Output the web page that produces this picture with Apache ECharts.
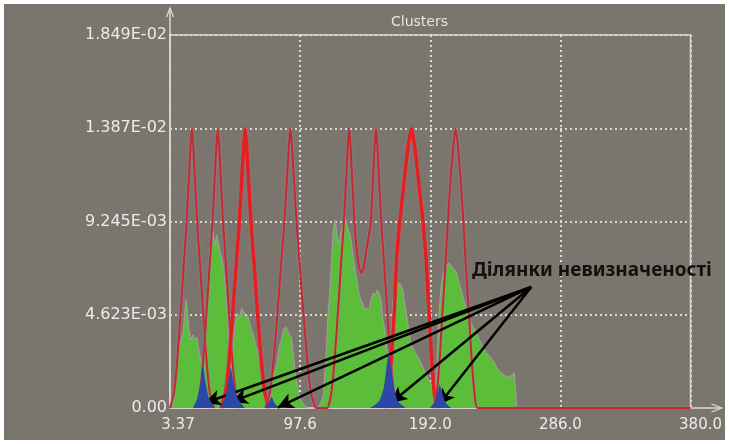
<!DOCTYPE html>
<html><head><meta charset="utf-8">
<script src="https://cdn.jsdelivr.net/npm/echarts@6/dist/echarts.min.js"></script>
<style>html,body{margin:0;padding:0;background:#fff;width:731px;height:444px;overflow:hidden}
#c{position:absolute;left:4px;top:4px;width:721px;height:436px}</style>
</head><body><div id="c"></div>
<script>
// ---- data ----
const X_MIN = 3.37, X_MAX = 380.0, Y_MAX = 1.849e-2;
const xTickLabels = ['3.37', '97.6', '192.0', '286.0', '380.0'];
const yTickLabels = ['0.00', '4.623E-03', '9.245E-03', '1.387E-02', '1.849E-02'];
const titleText = 'Clusters';
const noteText = 'Ділянки невизначеності';

const green = [[3.37,0],[5.53,0.15e-3],[6.97,1.14e-3],[8.41,2.13e-3],[9.85,2.88e-3],[11.29,3.37e-3],[12.73,3.72e-3],[14.17,4.86e-3],[14.89,5.35e-3],[15.61,5.11e-3],[17.05,3.87e-3],[18.49,3.37e-3],[19.93,3.62e-3],[21.37,3.37e-3],[22.81,3.52e-3],[24.25,2.88e-3],[25.69,2.38e-3],[27.13,1.64e-3],[28.57,3.87e-3],[30.01,5.20e-3],[31.45,6.84e-3],[32.17,7.83e-3],[33.61,8.33e-3],[34.33,8.82e-3],[35.77,8.08e-3],[37.21,8.58e-3],[38.65,8.08e-3],[39.38,7.83e-3],[40.81,7.44e-3],[42.26,6.84e-3],[43.70,5.85e-3],[45.14,4.36e-3],[46.58,2.38e-3],[48.02,1.78e-3],[49.46,3.62e-3],[50.90,4.36e-3],[52.34,4.71e-3],[53.78,4.46e-3],[55.22,4.96e-3],[56.66,4.76e-3],[58.10,4.46e-3],[59.54,4.61e-3],[60.98,4.21e-3],[62.42,3.87e-3],[63.86,3.62e-3],[65.30,3.12e-3],[66.74,2.88e-3],[68.18,2.28e-3],[69.62,1.73e-3],[71.06,1.14e-3],[72.50,0.50e-3],[73.94,0.30e-3],[75.38,0.40e-3],[76.82,1.14e-3],[78.26,1.64e-3],[79.70,1.88e-3],[81.14,2.38e-3],[82.58,3.12e-3],[84.02,3.37e-3],[85.46,3.87e-3],[86.90,4.02e-3],[88.34,3.87e-3],[89.78,3.62e-3],[91.22,3.52e-3],[92.66,2.63e-3],[94.10,1.73e-3],[95.54,1.14e-3],[96.98,0.60e-3],[99.14,0.25e-3],[101.30,0.10e-3],[103.46,0],[110.0,0],[112.10,0.20e-3],[114.26,0.60e-3],[116.42,2.80e-3],[117.86,4.86e-3],[118.58,5.35e-3],[120.02,7.09e-3],[121.46,8.82e-3],[122.90,9.32e-3],[124.34,8.58e-3],[125.78,8.08e-3],[127.22,8.82e-3],[128.66,9.22e-3],[130.10,9.42e-3],[131.54,9.07e-3],[132.99,8.72e-3],[134.43,8.33e-3],[135.87,7.58e-3],[137.31,6.84e-3],[138.75,6.34e-3],[140.19,5.60e-3],[141.63,5.35e-3],[143.07,5.11e-3],[144.51,4.86e-3],[145.95,4.96e-3],[147.39,4.86e-3],[148.83,5.35e-3],[150.27,5.70e-3],[151.71,5.60e-3],[153.15,5.85e-3],[154.59,5.75e-3],[156.03,5.35e-3],[157.47,4.36e-3],[158.91,3.87e-3],[160.35,2.88e-3],[161.79,2.38e-3],[163.23,2.88e-3],[164.67,5.35e-3],[166.11,5.85e-3],[167.55,6.10e-3],[168.99,6.20e-3],[170.43,6.10e-3],[171.87,5.85e-3],[173.31,5.11e-3],[174.75,4.51e-3],[176.19,3.87e-3],[177.63,3.22e-3],[179.79,2.88e-3],[181.95,2.63e-3],[184.11,2.38e-3],[186.27,2.03e-3],[188.43,1.73e-3],[190.60,1.39e-3],[192.76,1.04e-3],[194.92,0.79e-3],[196.36,1.88e-3],[197.80,4.36e-3],[199.24,5.85e-3],[200.68,6.59e-3],[202.12,6.84e-3],[203.56,6.99e-3],[205.00,7.19e-3],[206.44,7.09e-3],[207.88,7.04e-3],[209.32,6.84e-3],[210.76,6.69e-3],[212.20,6.34e-3],[213.64,5.95e-3],[215.08,5.60e-3],[216.52,5.20e-3],[217.96,4.86e-3],[219.40,4.61e-3],[220.84,4.26e-3],[222.28,4.06e-3],[223.72,3.87e-3],[225.16,3.72e-3],[226.60,3.47e-3],[228.04,3.27e-3],[229.48,3.07e-3],[230.92,2.88e-3],[232.36,2.73e-3],[233.80,2.63e-3],[235.24,2.53e-3],[236.68,2.38e-3],[238.12,2.23e-3],[239.56,2.03e-3],[241.00,1.88e-3],[242.44,1.78e-3],[243.88,1.73e-3],[245.32,1.64e-3],[246.76,1.54e-3],[248.20,1.54e-3],[249.64,1.59e-3],[251.08,1.64e-3],[252.52,1.73e-3],[253.96,1.73e-3],[254.3,0]];

const red1 = [[3.37,0],[6.25,0.74e-3],[8.77,2.48e-3],[11.29,4.96e-3],[13.45,7.24e-3],[15.25,9.07e-3],[17.05,11.40e-3],[18.13,12.89e-3],[19.21,13.87e-3],[20.29,12.89e-3],[21.37,11.40e-3],[23.17,9.07e-3],[24.97,7.24e-3],[27.13,4.96e-3],[29.65,2.48e-3],[32.17,0.74e-3],[35.05,0]];
const red2 = [[22.09,0],[24.97,0.74e-3],[27.49,2.48e-3],[30.01,4.96e-3],[32.17,7.24e-3],[33.97,9.07e-3],[35.77,11.40e-3],[36.85,12.89e-3],[37.93,13.87e-3],[39.01,12.89e-3],[40.09,11.40e-3],[41.89,9.07e-3],[43.69,7.24e-3],[45.85,4.96e-3],[48.37,2.48e-3],[50.89,0.74e-3],[53.77,0]];
const red3 = [[40.32,0],[43.48,0.74e-3],[46.26,2.48e-3],[49.03,4.96e-3],[51.40,7.24e-3],[53.38,9.07e-3],[55.36,11.40e-3],[56.55,12.89e-3],[57.74,13.87e-3],[58.93,12.89e-3],[60.12,11.40e-3],[62.10,9.07e-3],[64.08,7.24e-3],[66.45,4.96e-3],[69.22,2.48e-3],[72.00,0.74e-3],[75.16,0]];
const red4 = [[72.28,0],[75.60,0.74e-3],[78.49,2.48e-3],[81.39,4.96e-3],[83.88,7.24e-3],[85.95,9.07e-3],[88.02,11.40e-3],[89.26,12.89e-3],[90.50,13.87e-3],[91.74,12.89e-3],[92.98,11.40e-3],[95.05,9.07e-3],[97.12,7.24e-3],[99.61,4.96e-3],[102.51,2.48e-3],[105.40,0.74e-3],[108.72,0]];
const red56 = [[108.72,0],[117.15,0],[120.03,0.74e-3],[122.55,2.48e-3],[125.07,4.96e-3],[127.23,7.24e-3],[129.03,9.07e-3],[130.83,11.40e-3],[131.91,12.89e-3],[132.99,13.87e-3],[134.07,12.89e-3],[135.15,11.40e-3],[136.95,9.07e-3],[138.40,7.90e-3],[140.20,7.00e-3],[141.90,6.69e-3],[143.60,7.00e-3],[145.60,7.90e-3],[148.47,9.07e-3],[150.27,11.40e-3],[151.35,12.89e-3],[152.43,13.87e-3],[153.51,12.89e-3],[154.59,11.40e-3],[156.39,9.07e-3],[158.19,7.24e-3],[160.35,4.96e-3],[162.87,2.48e-3],[165.39,0.74e-3],[168.27,0]];
const red7 = [[159.30,0],[161.40,0.74e-3],[163.60,2.48e-3],[165.80,4.96e-3],[167.20,7.24e-3],[169.40,9.07e-3],[173.00,11.40e-3],[175.50,12.89e-3],[177.99,13.87e-3],[180.50,12.89e-3],[183.00,11.40e-3],[186.60,9.07e-3],[188.80,7.24e-3],[190.60,4.96e-3],[192.60,2.48e-3],[194.60,0.74e-3],[196.70,0]];
const red8 = [[194.20,0],[196.36,0.74e-3],[198.52,2.48e-3],[200.68,4.96e-3],[202.84,7.24e-3],[204.28,9.07e-3],[206.44,11.40e-3],[208.24,12.89e-3],[210.04,13.87e-3],[211.84,12.89e-3],[213.64,11.40e-3],[215.80,9.07e-3],[217.24,7.24e-3],[219.40,4.96e-3],[221.56,2.48e-3],[223.72,0.74e-3],[225.88,0],[380.0,0]];

const blue1 = [[19.90,0],[23.00,0.45e-3],[25.50,1.30e-3],[27.13,2.15e-3],[29.00,1.30e-3],[31.50,0.50e-3],[36.00,0]];
const blue2 = [[39.60,0],[43.40,0.55e-3],[45.70,1.40e-3],[47.30,2.00e-3],[49.20,1.30e-3],[52.30,0.50e-3],[57.60,0]];
const blue3 = [[72.20,0],[74.66,0.25e-3],[76.82,0.55e-3],[78.98,0.25e-3],[82.00,0]];
const blue4 = [[148.00,0],[154.59,0.32e-3],[158.19,1.05e-3],[160.35,2.20e-3],[161.79,2.75e-3],[163.23,2.05e-3],[165.39,1.05e-3],[168.27,0.32e-3],[174.00,0]];
const blue5 = [[191.40,0],[194.92,0.30e-3],[197.08,0.80e-3],[198.52,1.15e-3],[200.68,0.70e-3],[202.84,0.25e-3],[207.00,0]];

const arrowFrom = [264.77, 6.00e-3];
const arrowTo = [[28.57,0.25e-3],[48.02,0.30e-3],[81.14,0.02e-3],[163.23,0.25e-3],[197.80,0.15e-3]];

// ---- chart ----
const SPAN = X_MAX - X_MIN;
const sh = d => d.map(p => [p[0] - X_MIN, p[1]]);
const BG = '#7b766d', AX = '#dcd9d2', LBL = '#ebebeb';
const FONT = 'DejaVu Sans';

function redSeries(d, thick) {
  return {type: 'line', data: sh(d), showSymbol: false, smooth: 0.15, silent: true, z: 4,
    lineStyle: thick ? {color: '#e61e1e', width: 3.5, shadowColor: 'rgba(180,120,170,0.6)', shadowBlur: 2}
                     : {color: '#c42a2c', width: 2, shadowColor: 'rgba(170,130,190,0.8)', shadowBlur: 2}};
}
function blueSeries(d) {
  return {type: 'line', data: sh(d), showSymbol: false, smooth: 0.2, silent: true, z: 5,
    lineStyle: {width: 0}, areaStyle: {color: '#2b48a8', opacity: 1}};
}

const series = [
  {type: 'line', data: sh(green), showSymbol: false, silent: true, z: 2,
   lineStyle: {color: 'rgba(185,150,185,0.85)', width: 1}, areaStyle: {color: '#5cbd3b', opacity: 1}},
  redSeries(red1, false), redSeries(red2, false), redSeries(red3, true), redSeries(red4, false),
  redSeries(red56, false), redSeries(red7, true), redSeries(red8, false),
  blueSeries(blue1), blueSeries(blue2), blueSeries(blue3), blueSeries(blue4), blueSeries(blue5),
  {type: 'line', data: [], silent: true, z: 6,
   markLine: {silent: true, animation: false, symbol: ['none', 'arrow'], symbolSize: [12, 16],
     label: {show: false}, lineStyle: {color: '#000', width: 2.5, type: 'solid'},
     data: arrowTo.map(t => [{coord: [arrowFrom[0] - X_MIN, arrowFrom[1]]}, {coord: [t[0] - X_MIN, t[1]]}])}}
];

const option = {
  backgroundColor: BG,
  animation: false,
  title: {text: titleText, left: 382, top: 6,
    textStyle: {color: '#e6e6e6', fontFamily: FONT, fontSize: 14, fontWeight: 'normal'}},
  grid: {left: 166, top: 31, right: 32, bottom: 32, show: true, borderColor: AX, borderWidth: 1.5, backgroundColor: 'transparent'},
  xAxis: {type: 'value', min: 0, max: SPAN, interval: SPAN / 4,
    axisLine: {show: false}, axisTick: {show: false},
    splitLine: {show: true, lineStyle: {color: AX, width: 2, type: [2, 3]}},
    axisLabel: {color: LBL, fontFamily: FONT, fontSize: 15, margin: 10,
      formatter: v => { const i = Math.round(v / (SPAN / 4)); return i === 4 ? '{r|' + xTickLabels[i] + '}' : (i === 0 ? '{l|' + xTickLabels[i] + '}' : xTickLabels[i]); },
      rich: {r: {color: LBL, fontFamily: FONT, fontSize: 15, padding: [0, 0, 0, 20]},
             l: {color: LBL, fontFamily: FONT, fontSize: 15, padding: [0, 0, 0, 16]}}}},
  yAxis: {type: 'value', min: 0, max: Y_MAX, interval: Y_MAX / 4,
    axisLine: {show: false}, axisTick: {show: false},
    splitLine: {show: true, lineStyle: {color: AX, width: 2, type: [2, 3]}},
    axisLabel: {color: LBL, fontFamily: FONT, fontSize: 16, margin: 3, padding: [0, 0, 8, 0],
      formatter: v => yTickLabels[Math.round(v / (Y_MAX / 4))]}},
  series: series
};

const chart = echarts.init(document.getElementById('c'), null, {renderer: 'canvas'});
chart.setOption(option);
const p0 = chart.convertToPixel({gridIndex: 0}, [0, 0]);
const p1 = chart.convertToPixel({gridIndex: 0}, [SPAN, Y_MAX]);
const topY = p1[1] - 27, rightX = p1[0] + 31;
chart.setOption({graphic: [
  {type: 'line', z: 1, shape: {x1: p0[0], y1: p0[1], x2: p0[0], y2: topY}, style: {stroke: AX, lineWidth: 1.5}},
  {type: 'polyline', z: 1, shape: {points: [[p0[0] - 3.5, topY + 9], [p0[0], topY], [p0[0] + 3.5, topY + 9]]}, style: {stroke: AX, lineWidth: 1.3, fill: null}},
  {type: 'line', z: 1, shape: {x1: p0[0], y1: p0[1], x2: rightX, y2: p0[1]}, style: {stroke: AX, lineWidth: 1.5}},
  {type: 'polyline', z: 1, shape: {points: [[rightX - 10, p0[1] - 4], [rightX, p0[1]], [rightX - 10, p0[1] + 4]]}, style: {stroke: AX, lineWidth: 1.3, fill: null}},
  {type: 'text', z: 100, x: 468, y: 267, style: {text: noteText, fill: '#111', font: 'bold 19px "Noto Sans"', textAlign: 'left', textVerticalAlign: 'middle'}}
]});
</script></body></html>
